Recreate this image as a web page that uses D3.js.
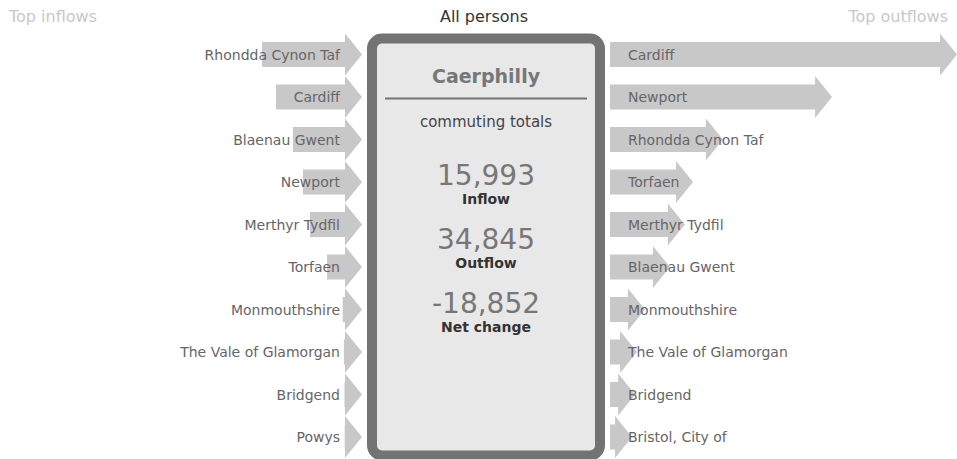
<!DOCTYPE html>
<html>
<head>
<meta charset="utf-8">
<script src="https://cdn.jsdelivr.net/npm/d3@7/dist/d3.min.js"></script>
<style>
  html, body { margin: 0; padding: 0; background: #fff; }
  svg { display: block; font-family: Verdana, "DejaVu Sans", sans-serif; }
</style>
</head>
<body>
<svg id="chart" width="957" height="459"></svg>
<script>
// Commuting flows for Caerphilly, all persons
const area = "Caerphilly";
const inflowPlaces = ["Rhondda Cynon Taf", "Cardiff", "Blaenau Gwent", "Newport", "Merthyr Tydfil",
  "Torfaen", "Monmouthshire", "The Vale of Glamorgan", "Bridgend", "Powys"];
const inflowValues = [3055, 2540, 1915, 1545, 1290, 660, 85, 40, 20, 10];
const outflowPlaces = ["Cardiff", "Newport", "Rhondda Cynon Taf", "Torfaen", "Merthyr Tydfil",
  "Blaenau Gwent", "Monmouthshire", "The Vale of Glamorgan", "Bridgend", "Bristol, City of"];
const outflowValues = [12150, 7550, 3530, 2430, 2130, 1580, 660, 370, 300, 185];
const totalLabels = ["Inflow", "Outflow", "Net change"];
const totalValues = [15993, 34845, -18852];

const svg = d3.select("#chart");
const fmt = d3.format(",");

// shared length scale for both sides
const len = d3.scaleLinear().domain([0, 12150]).range([0, 330]);
const row = d3.scalePoint().domain(d3.range(10)).range([54.5, 437]);

const headW = 17, headH = 21, bodyH = 12.5;
const arrowFill = "#c8c8c8";

// right-pointing arrow: body from x0 of given length, then the head
function arrowPath(x0, body, cy) {
  const xb = x0 + body;
  return `M${x0},${cy - bodyH}L${xb},${cy - bodyH}L${xb},${cy - headH}L${xb + headW},${cy}` +
         `L${xb},${cy + headH}L${xb},${cy + bodyH}L${x0},${cy + bodyH}Z`;
}

// headers
svg.append("text").attr("x", 9).attr("y", 22).attr("fill", "#c8c8c8")
  .attr("font-size", 16).text("Top inflows");
svg.append("text").attr("x", 948).attr("y", 22).attr("fill", "#c8c8c8")
  .attr("text-anchor", "end").attr("font-size", 16).text("Top outflows");
svg.append("text").attr("x", 484).attr("y", 22).attr("fill", "#333")
  .attr("text-anchor", "middle").attr("font-size", 16).text("All persons");

// inflow arrows (tip touches the panel)
const tipIn = 362;
const gin = svg.append("g");
gin.selectAll("path").data(inflowValues).join("path")
  .attr("d", (d, i) => arrowPath(tipIn - headW - len(d), len(d), row(i)))
  .attr("fill", arrowFill);
gin.selectAll("text").data(inflowPlaces).join("text")
  .attr("x", 340).attr("y", (d, i) => row(i) + 5)
  .attr("text-anchor", "end").attr("font-size", 14).attr("fill", "#666")
  .text(d => d);

// outflow arrows
const startOut = 610;
const gout = svg.append("g");
gout.selectAll("path").data(outflowValues).join("path")
  .attr("d", (d, i) => arrowPath(startOut, len(d), row(i)))
  .attr("fill", arrowFill);
gout.selectAll("text").data(outflowPlaces).join("text")
  .attr("x", 628).attr("y", (d, i) => row(i) + 5)
  .attr("font-size", 14).attr("fill", "#666")
  .text(d => d);

// centre panel
const cx = 486;
svg.append("rect").attr("x", 372).attr("y", 38.5).attr("width", 228).attr("height", 417)
  .attr("rx", 10).attr("fill", "#e8e8e8").attr("stroke", "#737373").attr("stroke-width", 10);

svg.append("text").attr("x", cx).attr("y", 83).attr("text-anchor", "middle")
  .attr("font-size", 19).attr("font-weight", "bold").attr("fill", "#777").text(area);
svg.append("line").attr("x1", 385).attr("x2", 587).attr("y1", 98.5).attr("y2", 98.5)
  .attr("stroke", "#737373").attr("stroke-width", 2);
svg.append("text").attr("x", cx).attr("y", 127).attr("text-anchor", "middle")
  .attr("font-size", 15).attr("fill", "#444").text("commuting totals");

const totals = svg.append("g").selectAll("g").data(totalValues).join("g")
  .attr("transform", (d, i) => `translate(${cx},${184.5 + i * 64})`);
totals.append("text").attr("text-anchor", "middle").attr("font-size", 28)
  .attr("fill", "#777").text(d => fmt(d).replace("−", "-"));
totals.append("text").attr("y", 19).attr("text-anchor", "middle").attr("font-size", 14)
  .attr("font-weight", "bold").attr("fill", "#333").text((d, i) => totalLabels[i]);
</script>
</body>
</html>
